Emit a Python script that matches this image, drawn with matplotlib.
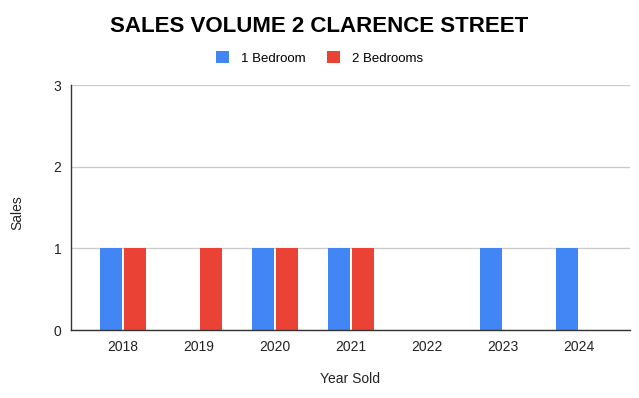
import matplotlib.pyplot as plt
import numpy as np

plt.rcParams['font.family'] = ['Liberation Sans', 'DejaVu Sans']

## data ##
years = ['2018', '2019', '2020', '2021', '2022', '2023', '2024']
one_bed = [1, 0, 1, 1, 0, 1, 1]
two_bed = [1, 1, 1, 1, 0, 0, 0]

## formatting ##
blue = '#4285f4'
red = '#ea4335'
width = 0.29
offset = 0.158

fig = plt.figure(figsize=(6.39, 3.98), dpi=100)
ax = fig.add_axes([71 / 639, 68 / 398, 559 / 639, 245 / 398])

x = np.arange(len(years))
ax.bar(x - offset, one_bed, width, color=blue, label='1 Bedroom', zorder=3)
ax.bar(x + offset, two_bed, width, color=red, label='2 Bedrooms', zorder=3)

ax.set_xlim(-0.684, 6.67)
ax.set_ylim(0, 3)
ax.set_yticks([0, 1, 2, 3])
ax.set_xticks(x)
ax.set_xticklabels(years)
ax.grid(axis='y', color='#cccccc', linewidth=1, zorder=0)
ax.tick_params(length=0, labelsize=10, colors='#222222')
ax.tick_params(axis='y', pad=7)
ax.tick_params(axis='x', pad=7)

for s in ['top', 'right']:
    ax.spines[s].set_visible(False)
for s in ['left', 'bottom']:
    ax.spines[s].set_color('#333333')
    ax.spines[s].set_linewidth(1)
    ax.spines[s].set_zorder(4)

ax.set_xlabel('Year Sold', fontsize=10, labelpad=13, color='#222222')
fig.text(17 / 639, 1 - 213 / 398, 'Sales', rotation=90, ha='center', va='center',
         fontsize=10, color='#222222')

fig.text(0.5, 1 - 27 / 398, 'SALES VOLUME 2 CLARENCE STREET', ha='center', va='center',
         fontsize=16, fontweight='bold')
fig.legend(loc='center', bbox_to_anchor=(0.5, 1 - 58 / 398), ncol=2, frameon=False,
           fontsize=9.5, handlelength=1.0, handleheight=1.0, columnspacing=1.6,
           handletextpad=0.9)

plt.savefig('out.png', dpi=100)
